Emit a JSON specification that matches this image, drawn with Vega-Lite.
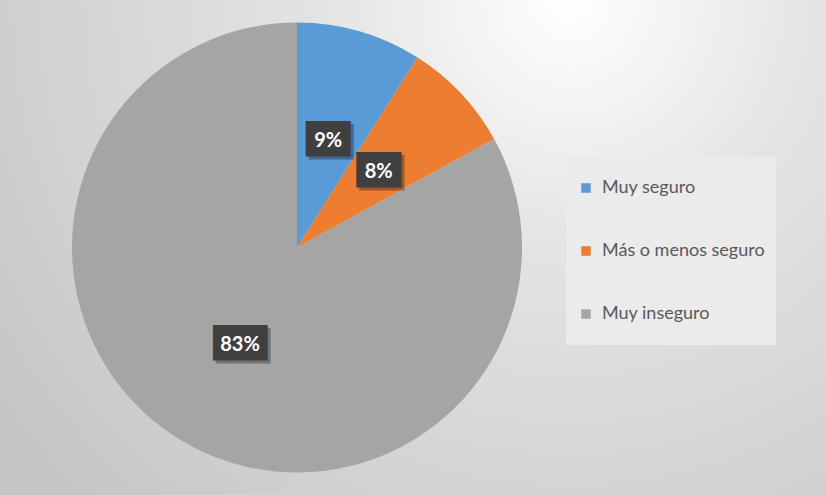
{
  "$schema": "https://vega.github.io/schema/vega-lite/v6.json",
  "padding": 0,
  "spacing": 0,
  "background": "#cfcfcf",
  "data": {
    "values": [
      {"category": "Muy seguro", "value": 9, "label": "9%", "order": 1},
      {"category": "Más o menos seguro", "value": 8, "label": "8%", "order": 2},
      {"category": "Muy inseguro", "value": 83, "label": "83%", "order": 3}
    ]
  },
  "hconcat": [
    {
      "width": 594,
      "height": 495,
      "view": {
        "stroke": null,
        "fill": {"gradient": "radial", "x1": 0.9596, "y1": 0.0833, "x2": 0.9596, "y2": 0.0833, "r1": 0, "r2": 1.1785,
          "stops": [{"offset": 0, "color": "#ffffff"}, {"offset": 0.35, "color": "#e4e4e4"}, {"offset": 0.75, "color": "#d2d2d2"}, {"offset": 1, "color": "#c5c5c5"}]}
      },
      "encoding": {
        "theta": {"field": "value", "type": "quantitative", "stack": true},
        "order": {"field": "order", "type": "quantitative"}
      },
      "layer": [
        {
          "mark": {"type": "arc", "outerRadius": 225},
          "encoding": {
            "color": {
              "field": "category",
              "type": "nominal",
              "scale": {"domain": ["Muy seguro", "Más o menos seguro", "Muy inseguro"], "range": ["#5B9BD5", "#ED7D31", "#A5A5A5"]},
              "legend": {
                "title": null,
                "orient": "none",
                "legendX": 566,
                "legendY": 157,
                "fillColor": "#ebebeb",
                "padding": 11,
                "clipHeight": 40,
                "rowPadding": 23,
                "symbolType": "square",
                "symbolSize": 90,
                "symbolStrokeWidth": 0,
                "labelFont": "Lato",
                "labelFontSize": 18,
                "labelColor": "#595959",
                "labelOffset": 7,
                "labelLimit": 300
              }
            }
          }
        },
        {
          "mark": {"type": "text", "radius": 112, "font": "DejaVu Sans Mono", "fontSize": 30, "align": "center", "baseline": "middle", "color": "#000000", "opacity": 0.3, "dx": 3, "dy": 3},
          "encoding": {"text": {"condition": {"test": "length(datum.label) == 3", "value": "███"}, "value": ""}}
        },
        {
          "mark": {"type": "text", "radius": 112, "font": "DejaVu Sans Mono", "fontSize": 30, "align": "left", "baseline": "middle", "color": "#000000", "opacity": 0.3, "dx": -19.5, "dy": 3},
          "encoding": {"text": {"condition": {"test": "length(datum.label) == 2", "value": "██▌"}, "value": ""}}
        },
        {
          "mark": {"type": "text", "radius": 112, "font": "DejaVu Sans Mono", "fontSize": 30, "align": "center", "baseline": "middle", "color": "#3f3f3f"},
          "encoding": {"text": {"condition": {"test": "length(datum.label) == 3", "value": "███"}, "value": ""}}
        },
        {
          "mark": {"type": "text", "radius": 112, "font": "DejaVu Sans Mono", "fontSize": 30, "align": "left", "baseline": "middle", "color": "#3f3f3f", "dx": -22.5},
          "encoding": {"text": {"condition": {"test": "length(datum.label) == 2", "value": "██▌"}, "value": ""}}
        },
        {
          "mark": {"type": "text", "radius": 112, "font": "Lato", "fontWeight": "bold", "fontSize": 20, "align": "center", "baseline": "middle", "color": "#ffffff", "dy": 1},
          "encoding": {"text": {"field": "label", "type": "nominal"}}
        }
      ]
    },
    {
      "width": 232,
      "height": 495,
      "view": {
        "stroke": null,
        "fill": {"gradient": "radial", "x1": 0.2172, "y1": 0.0, "x2": 0.2172, "y2": 0.0, "r1": 0, "r2": 1.4141,
          "stops": [{"offset": 0, "color": "#ffffff"}, {"offset": 0.35, "color": "#e4e4e4"}, {"offset": 0.75, "color": "#d2d2d2"}, {"offset": 1, "color": "#c5c5c5"}]}
      },
      "mark": {"type": "text"},
      "encoding": {"text": {"value": ""}}
    }
  ]
}
